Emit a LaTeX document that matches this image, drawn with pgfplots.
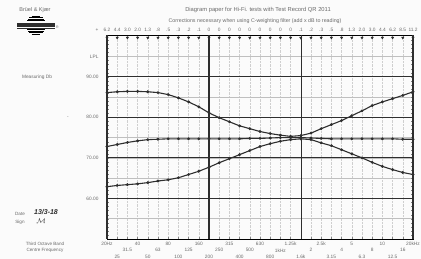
\documentclass[border=0pt]{standalone}
\usepackage{pgfplots}
\pgfplotsset{compat=1.18}
\usepackage{fontspec}
\setmainfont{Liberation Sans}
\definecolor{ink}{HTML}{2E2E2E}
\definecolor{txt}{HTML}{6A6A6A}
\definecolor{paper}{HTML}{FBFBFB}
\definecolor{thin}{HTML}{6E6E6E}
\definecolor{dotc}{HTML}{CFCFCF}

\pgfplotstableread{
i a b c
0 86.1 72.8 62.9
1 86.3 73.3 63.2
2 86.4 73.8 63.4
3 86.4 74.2 63.6
4 86.3 74.5 63.9
5 86.1 74.6 64.3
6 85.6 74.7 64.6
7 84.8 74.7 65.1
8 83.8 74.7 65.9
9 82.6 74.7 66.7
10 81.1 74.7 67.7
11 79.9 74.7 68.8
12 78.9 74.7 69.8
13 77.9 74.7 70.8
14 77.2 74.8 71.8
15 76.5 74.8 72.8
16 76.0 74.9 73.5
17 75.6 75.0 74.1
18 75.3 75.0 74.5
19 75.5 75.0 74.7
20 76.1 74.9 74.5
21 77.2 74.8 73.7
22 78.2 74.7 73.0
23 79.2 74.7 72.0
24 80.4 74.7 71.0
25 81.6 74.7 70.0
26 82.9 74.7 68.9
27 83.8 74.7 67.9
28 84.6 74.7 67.1
29 85.4 74.6 66.4
30 86.3 74.6 65.9
}\curves

\pgfplotstableread{
i y
0 99.6
1 99.6
2 99.6
3 99.6
4 99.6
5 99.6
6 99.6
7 99.6
8 99.6
9 99.6
10 99.6
11 99.6
12 99.6
13 99.6
14 99.6
15 99.6
16 99.6
17 99.6
18 99.6
19 99.6
20 99.6
21 99.6
22 99.6
23 99.6
24 99.6
25 99.6
26 99.6
27 99.6
28 99.6
29 99.6
30 99.6
}\arrowrow

\begin{document}
\begin{tikzpicture}[x=1pt,y=1pt]
\clip (0,0) rectangle (421,259);
\fill[paper] (0,0) rectangle (421,259);

\begin{axis}[
  at={(107pt,20pt)}, anchor=south west,
  width=306pt, height=204pt, scale only axis,
  xmin=0, xmax=30, ymin=50, ymax=100.3,
  axis line style={thin, line width=0.5pt},
  xtick={0,3,...,30},
  xticklabels={20Hz,40,80,160,315,630,1.25k,2.5k,5,10,20kHz},
  extra x ticks={2,5,...,29},
  extra x tick labels={31.5,63,125,250,500,1kHz,2,4,8,16},
  extra x tick style={grid=none, xticklabel style={yshift=-6.5pt}},
  xticklabel style={font=\fontsize{4.8}{5}\selectfont, text=txt, yshift=0.5pt},
  minor xtick={0,1,...,30},
  ytick={55,60,...,95},
  yticklabels={,60.00,,70.00,,80.00,,90.00,LPL},
  yticklabel style={font=\fontsize{4.8}{5}\selectfont, text=txt, xshift=-5pt},
  minor ytick={51,52,...,99},
  major tick length=0pt, minor tick length=1.8pt,
  tick style={thin, line width=0.3pt},
  ymajorgrids, xminorgrids,
  major grid style={thin, line width=0.7pt},
  minor grid style={dotc, densely dotted, line width=0.4pt},
  clip=false,
]
% thick grid lines
\draw[ink, line width=1pt] (axis cs:0,60) -- (axis cs:30,60);
\draw[ink, line width=1pt] (axis cs:0,70) -- (axis cs:30,70);
\draw[ink, line width=1pt] (axis cs:0,80) -- (axis cs:30,80);
\draw[ink, line width=1pt] (axis cs:0,90) -- (axis cs:30,90);
\draw[ink, line width=1.1pt] (axis cs:0,50) -- (axis cs:0,100.3);
\draw[ink, line width=1.1pt] (axis cs:10,50) -- (axis cs:10,100.3);
\draw[ink, line width=1.1pt] (axis cs:19.1,50) -- (axis cs:19.1,100.3);
\draw[ink, line width=1.1pt] (axis cs:30,50) -- (axis cs:30,100.3);

\addplot[only marks, mark=triangle*, mark size=1.3pt, color=ink,
  mark options={rotate=180}] table[x=i,y=y]{\arrowrow};

\addplot[ink, line width=1.1pt, mark=*, mark size=0.8pt] table[x=i,y=a]{\curves};
\addplot[ink, line width=1.1pt, mark=*, mark size=0.8pt] table[x=i,y=b]{\curves};
\addplot[ink, line width=1.1pt, mark=*, mark size=0.8pt] table[x=i,y=c]{\curves};
\end{axis}

% correction numbers along the top
\begin{scope}[every node/.style={font=\fontsize{4.8}{5}\selectfont, text=txt, inner sep=0pt}]
\node at (97,229) {+};
\foreach \v [count=\k from 0] in {6.2,4.4,3.0,2.0,1.3,.8,.5,.3,.2,.1,0,0,0,0,0,0,0,0,0,.1,.2,.3,.5,.8,1.3,2.0,3.0,4.4,6.2,8.5,11.2}
  {\node at ({107+10.2*\k},229) {\v};}
% third row of band labels
\foreach \v [count=\k from 0] in {25,50,100,200,400,800,1.6k,3.15,6.3,12.5}
  {\node at ({107+10.2*(1+3*\k)},2) {\v};}
\end{scope}

% titles
\node[font=\fontsize{5.8}{7}\selectfont, text=txt] at (258,249) {Diagram paper for Hi-Fi. tests with Test Record QR 2011};
\node[font=\fontsize{5.3}{6}\selectfont, text=txt] at (255,238) {Corrections necessary when using C-weighting filter (add x dB to reading)};

% B&K mark
\node[font=\fontsize{5.5}{6}\selectfont, text=txt] at (35,249) {Brüel \& Kjær};
\begin{scope}[shift={(36,234)}]
  \foreach \k in {-9,-7.5,-6,-4.5,4.5,6,7.5,9}
    {\draw[thin, line width=0.5pt] ({-sqrt(100-\k*\k)},\k) -- ({sqrt(100-\k*\k)},\k);}
  \fill[ink] (-19,-2.2) rectangle (19,2.2);
  \draw[ink, line width=0.6pt] (-19,-3.6) -- (19,-3.6);
  \node[font=\fontsize{3.5}{4}\selectfont, text=txt] at (21.5,-2) {R};
\end{scope}

% left labels
\node[font=\fontsize{4.8}{5}\selectfont, text=txt] at (37,182) {Measuring Db};
\node[font=\fontsize{4.6}{5}\selectfont, text=txt] at (68,141) {-};
\node[font=\fontsize{4.6}{5}\selectfont, text=txt] at (20,45) {Date};
\node[font=\fontsize{4.6}{5}\selectfont, text=txt] at (20,37) {Sign};
\node[font=\bfseries\itshape\fontsize{7}{8}\selectfont, text=ink] at (46,47) {13/3-18};
\node[font=\bfseries\itshape\fontsize{7}{8}\selectfont, text=ink] at (41,38) {$\mathcal{M}$};
\node[font=\fontsize{4.6}{5}\selectfont, text=txt] at (45,15) {Third Octave Band};
\node[font=\fontsize{4.6}{5}\selectfont, text=txt] at (45,9) {Centre Frequency};
\end{tikzpicture}
\end{document}
